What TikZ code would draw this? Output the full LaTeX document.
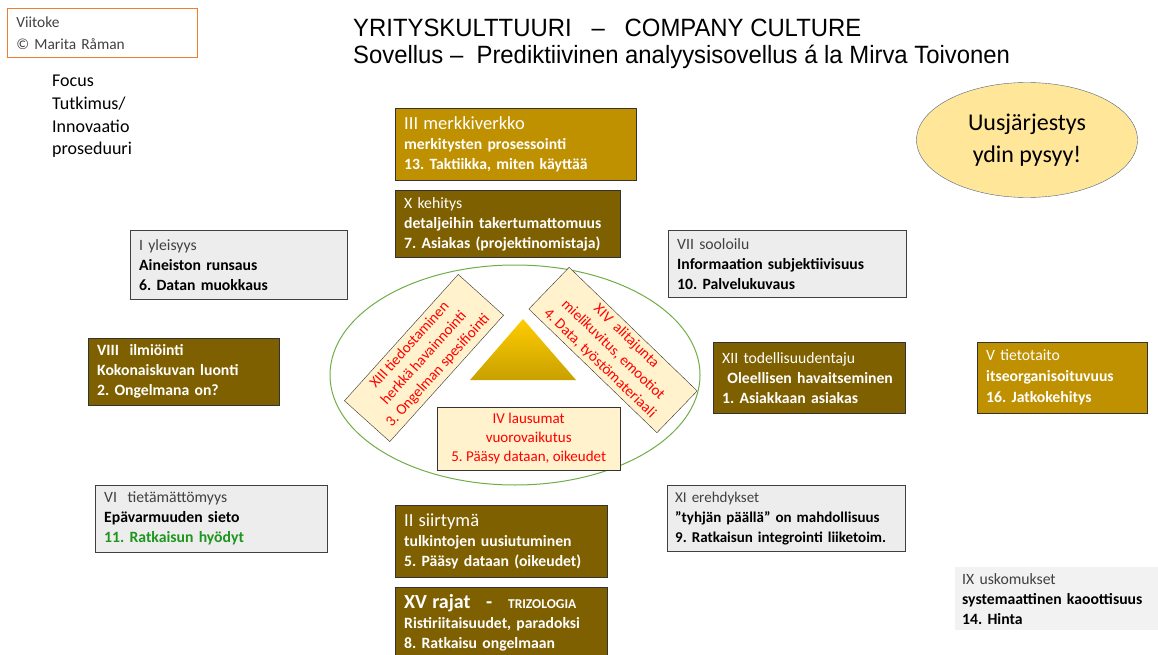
\documentclass[tikz,border=0pt]{standalone}
\usepackage{fontspec}
\setmainfont{Carlito}
\newfontfamily\otsikko[FakeStretch=0.955]{Liberation Sans}
\usetikzlibrary{positioning,shapes.geometric}
\definecolor{kulta}{RGB}{191,144,0}
\definecolor{ruskea}{RGB}{127,96,0}
\definecolor{harmaa}{RGB}{237,237,237}
\definecolor{vaalea}{RGB}{255,242,204}
\definecolor{oranssi}{RGB}{237,125,49}
\definecolor{tumma}{RGB}{64,64,64}
\definecolor{vihrea}{RGB}{112,173,71}
\definecolor{ruoho}{RGB}{30,150,30}
\definecolor{keltainen}{RGB}{255,230,153}
\definecolor{sininen}{RGB}{80,100,130}
\frenchspacing

\begin{document}
\begin{tikzpicture}[x=1pt,y=-1pt,
    perus/.style={anchor=north west,align=left,inner xsep=9pt,inner ysep=2pt,
      font=\fontsize{15.7}{20}\selectfont},
    harmaalaatikko/.style={perus,draw=tumma,fill=harmaa,text=black},
    ruskealaatikko/.style={perus,draw=black!80,fill=ruskea,text=white},
    kultalaatikko/.style={perus,draw=black!80,fill=kulta,text=white},
    kermalaatikko/.style={draw=black!80,fill=vaalea,text=red,align=center,
      inner sep=2pt,font=\fontsize{15}{19}\selectfont}]
  \useasboundingbox (0,0) rectangle (1158,655);

  % otsikko
  \node[anchor=base west,inner sep=0pt,font=\otsikko\fontsize{25}{28}\selectfont]
    (otsikko1) at (353,37) {YRITYSKULTTUURI \ \ – \ \ COMPANY CULTURE};
  \node[anchor=base west,inner sep=0pt,font=\otsikko\fontsize{25}{28}\selectfont]
    (otsikko2) at (353,64) {Sovellus – \ Prediktiivinen analyysisovellus á la Mirva Toivonen};

  \node[perus,draw=oranssi,thick,text=tumma,text width=172,minimum height=49,
    font=\fontsize{15.4}{22}\selectfont] (viitoke) at (7,8) {Viitoke\\\copyright\ Marita Råman};
  \node[anchor=north west,align=left,inner sep=0pt,font=\fontsize{18}{22.7}\selectfont]
    (focus) at (52,75) {Focus\\Tutkimus/\\Innovaatio\\proseduuri};

  \node[ellipse,draw=sininen,fill=keltainen,minimum width=221,minimum height=115,
    align=center,font=\fontsize{24}{32}\selectfont] (uusi) at (1027,140)
    {Uusjärjestys\\ydin pysyy!};

  % keskusta
  \draw[vihrea,line width=1pt] (515,375) ellipse [x radius=185pt,y radius=110pt];
  \shade[top color=yellow!60!orange,bottom color=kulta!85!yellow]
    (523,319) -- (470,380) -- (576,380) -- cycle;
  \node[kermalaatikko,rotate=48,minimum width=170,minimum height=61] (tiedostaminen)
    at (424,358) {XIII tiedostaminen\\herkkä havainnointi\\3. Ongelman spesifiointi};
  \node[kermalaatikko,rotate=-44,minimum width=178,minimum height=58] (alitajunta)
    at (613,350) {XIV \ alitajunta\\mielikuvitus, emootiot\\4. Data, työstömateriaali};
  \node[kermalaatikko,anchor=north west,minimum width=183,minimum height=63] (lausumat)
    at (437,407) {IV lausumat\\vuorovaikutus\\5. Pääsy dataan, oikeudet};

  % ylä
  \node[kultalaatikko,text width=223,minimum height=72] (merkki) at (395,108)
    {{\fontsize{18.5}{20}\selectfont III merkkiverkko}\\\textbf{merkitysten prosessointi}\\\textbf{13. Taktiikka, miten käyttää}};
  \node[ruskealaatikko,text width=207,minimum height=67,
    below=10pt of merkki.south west,anchor=north west] (kehitys)
    {X kehitys\\\textbf{detaljeihin takertumattomuus}\\\textbf{7. Asiakas (projektinomistaja)}};

  % vasen
  \node[harmaalaatikko,text width=199,minimum height=69] (yleisyys) at (130,230)
    {\textcolor{tumma}{I yleisyys}\\\textbf{Aineiston runsaus}\\\textbf{6. Datan muokkaus}};
  \node[ruskealaatikko,text width=173,minimum height=67] (ilmiointi) at (88,338)
    {\textbf{VIII \ ilmiöinti}\\\textbf{Kokonaiskuvan luonti}\\\textbf{2. Ongelmana on?}};
  \node[harmaalaatikko,text width=214,minimum height=67] (tietamatto) at (95,485)
    {\textcolor{tumma}{VI \ tietämättömyys}\\\textbf{Epävarmuuden sieto}\\\textcolor{ruoho}{\textbf{11. Ratkaisun hyödyt}}};

  % oikea
  \node[harmaalaatikko,text width=220,minimum height=67] (sooloilu) at (668,230)
    {\textcolor{tumma}{VII sooloilu}\\\textbf{Informaation subjektiivisuus}\\\textbf{10. Palvelukuvaus}};
  \node[ruskealaatikko,text width=174,minimum height=71] (todellisuus) at (713,342)
    {XII todellisuudentaju\\\textbf{\ Oleellisen havaitseminen}\\\textbf{1. Asiakkaan asiakas}};
  \node[kultalaatikko,text width=152,minimum height=71,
    font=\fontsize{15.7}{21}\selectfont] (tietotaito) at (977,342)
    {V tietotaito\\\textbf{itseorganisoituvuus}\\\textbf{16. Jatkokehitys}};
  \node[harmaalaatikko,inner xsep=8pt,text width=222,minimum height=66,
    font=\fontsize{15}{20}\selectfont] (erehdys) at (667,485)
    {\textcolor{tumma}{XI erehdykset}\\\textbf{"tyhjän päällä" on mahdollisuus}\\\textbf{9. Ratkaisun integrointi liiketoim.}};
  \node[perus,inner xsep=7pt,fill=black!5,text width=189,minimum height=63] (uskomus) at (955,567)
    {\textcolor{tumma}{IX uskomukset}\\\textbf{systemaattinen kaoottisuus}\\\textbf{14. Hinta}};

  % ala
  \node[ruskealaatikko,text width=194,minimum height=72] (siirtyma) at (395,505)
    {{\fontsize{18.5}{20}\selectfont II siirtymä}\\\textbf{tulkintojen uusiutuminen}\\\textbf{5. Pääsy dataan (oikeudet)}};
  \node[ruskealaatikko,text width=194,minimum height=70,
    below=10pt of siirtyma.south west,anchor=north west] (rajat)
    {\textbf{{\fontsize{20}{20}\selectfont XV rajat \ \ -} \ \ {\fontsize{13.5}{14}\selectfont TRIZOLOGIA}}\\\textbf{Ristiriitaisuudet, paradoksi}\\\textbf{8. Ratkaisu ongelmaan}};
\end{tikzpicture}
\end{document}
